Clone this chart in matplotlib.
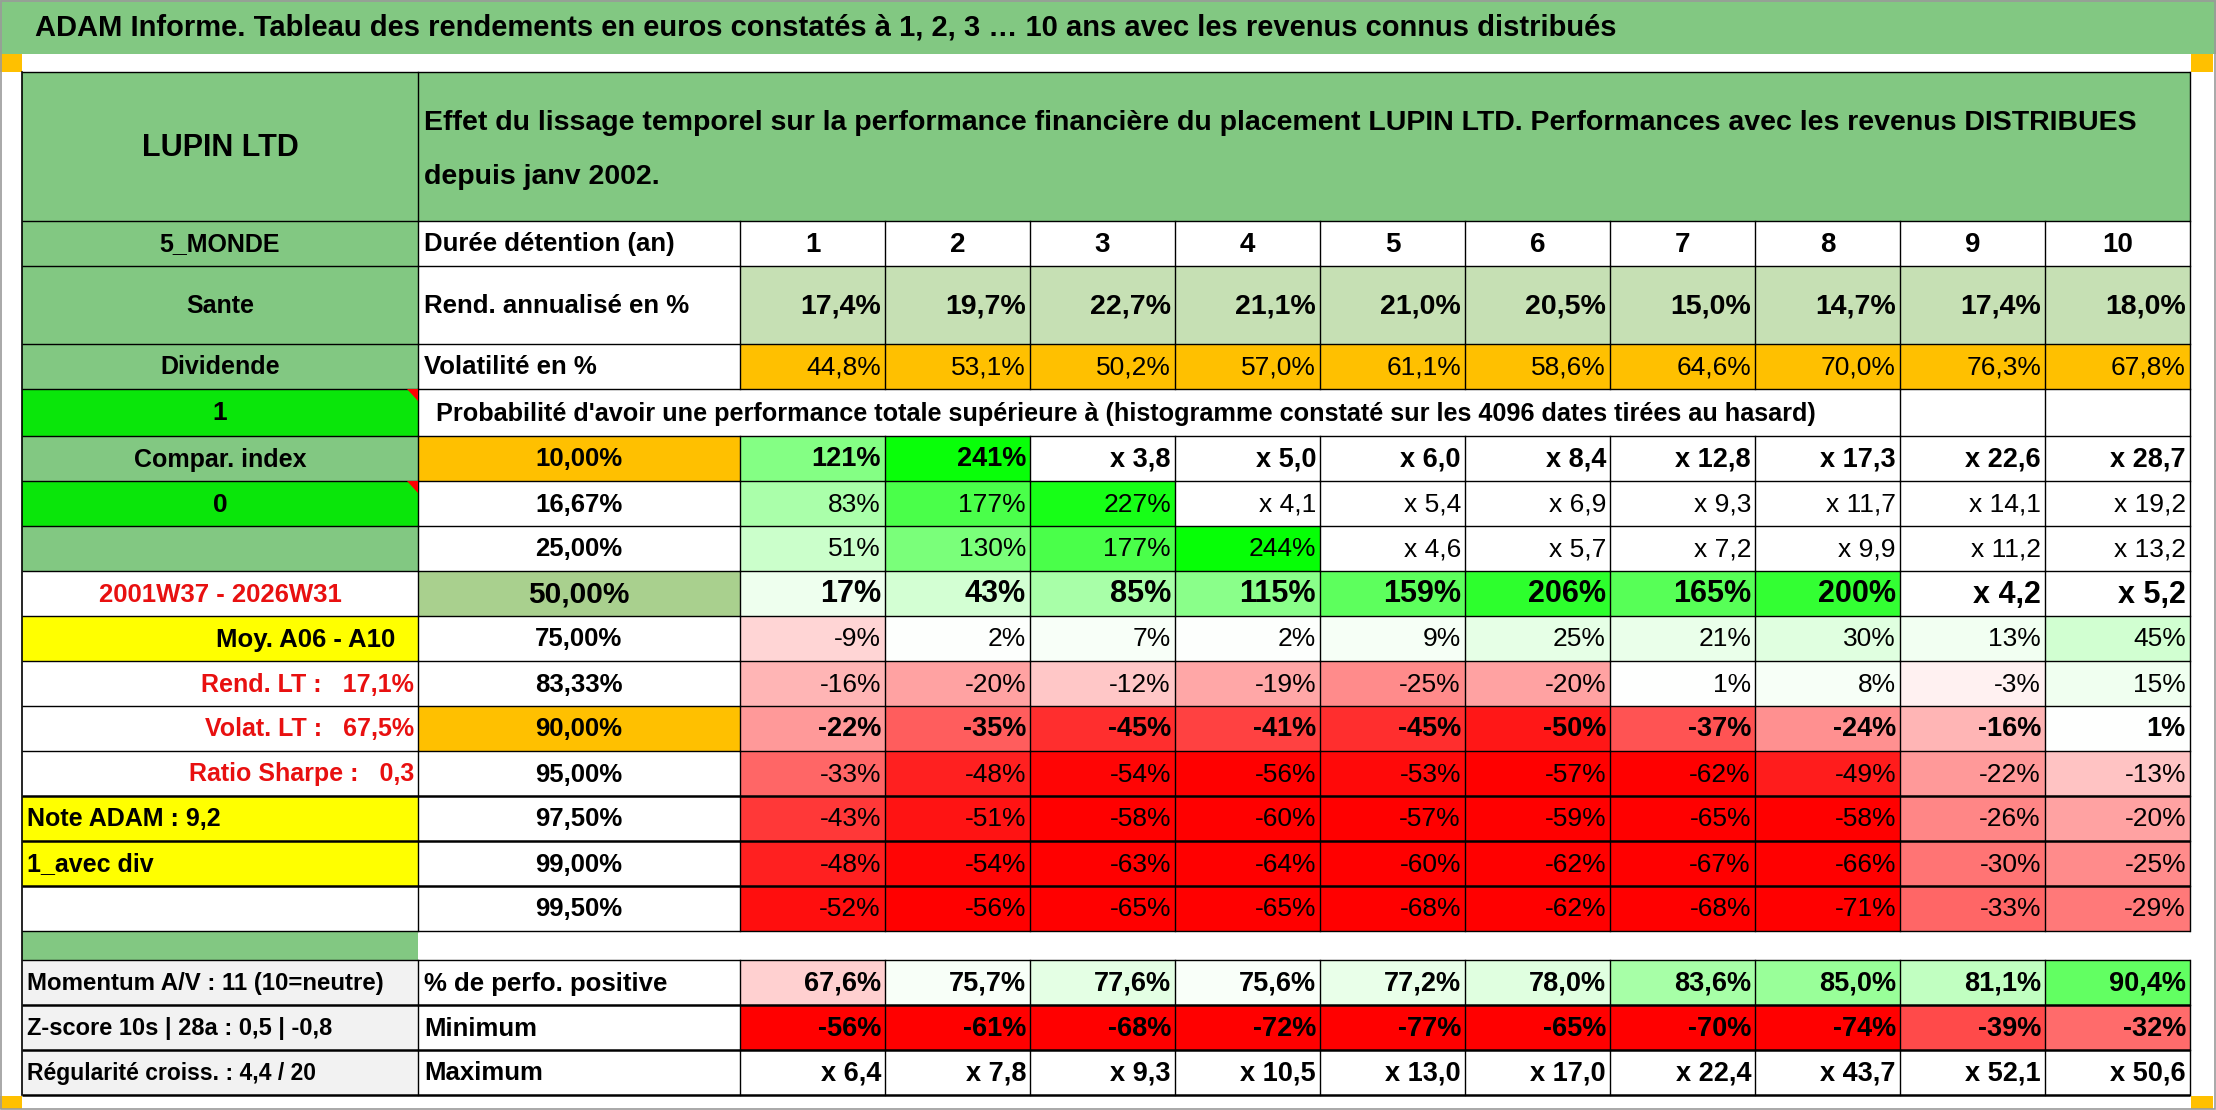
"""
Tableau ADAM : rendements LUPIN LTD à 1..10 ans (revenus distribués).
Reproduction en matplotlib d'un tableau Excel avec mise en forme conditionnelle.
"""
import matplotlib
matplotlib.use("Agg")
import matplotlib.pyplot as plt
from matplotlib.patches import Rectangle, Polygon

plt.rcParams["font.family"] = ["Liberation Sans", "DejaVu Sans"]

# =========================================================
# DONNÉES
# =========================================================
TITLE = ("ADAM Informe. Tableau des rendements en euros constatés à 1, 2, 3 … 10 ans "
         "avec les revenus connus distribués")
HEADER_1 = ("Effet du lissage temporel sur la performance financière du placement LUPIN LTD. "
            "Performances avec les revenus DISTRIBUES")
HEADER_2 = "depuis janv 2002."
PROBA_TEXT = ("Probabilité d'avoir une performance totale supérieure à "
              "(histogramme constaté sur les 4096 dates tirées au hasard)")

HOLD_YEARS = [1, 2, 3, 4, 5, 6, 7, 8, 9, 10]
REND_ANNUAL = [17.4, 19.7, 22.7, 21.1, 21.0, 20.5, 15.0, 14.7, 17.4, 18.0]
VOLATILITY = [44.8, 53.1, 50.2, 57.0, 61.1, 58.6, 64.6, 70.0, 76.3, 67.8]

QUANTILES = ["10,00%", "16,67%", "25,00%", "50,00%", "75,00%", "83,33%",
             "90,00%", "95,00%", "97,50%", "99,00%", "99,50%"]
PERF_ROWS = [
    ["121%", "241%", "x 3,8", "x 5,0", "x 6,0", "x 8,4", "x 12,8", "x 17,3", "x 22,6", "x 28,7"],
    ["83%", "177%", "227%", "x 4,1", "x 5,4", "x 6,9", "x 9,3", "x 11,7", "x 14,1", "x 19,2"],
    ["51%", "130%", "177%", "244%", "x 4,6", "x 5,7", "x 7,2", "x 9,9", "x 11,2", "x 13,2"],
    ["17%", "43%", "85%", "115%", "159%", "206%", "165%", "200%", "x 4,2", "x 5,2"],
    ["-9%", "2%", "7%", "2%", "9%", "25%", "21%", "30%", "13%", "45%"],
    ["-16%", "-20%", "-12%", "-19%", "-25%", "-20%", "1%", "8%", "-3%", "15%"],
    ["-22%", "-35%", "-45%", "-41%", "-45%", "-50%", "-37%", "-24%", "-16%", "1%"],
    ["-33%", "-48%", "-54%", "-56%", "-53%", "-57%", "-62%", "-49%", "-22%", "-13%"],
    ["-43%", "-51%", "-58%", "-60%", "-57%", "-59%", "-65%", "-58%", "-26%", "-20%"],
    ["-48%", "-54%", "-63%", "-64%", "-60%", "-62%", "-67%", "-66%", "-30%", "-25%"],
    ["-52%", "-56%", "-65%", "-65%", "-68%", "-62%", "-68%", "-71%", "-33%", "-29%"],
]
POSITIVE = [67.6, 75.7, 77.6, 75.6, 77.2, 78.0, 83.6, 85.0, 81.1, 90.4]
MINIMUM = [-56, -61, -68, -72, -77, -65, -70, -74, -39, -32]
MAXIMUM = [6.4, 7.8, 9.3, 10.5, 13.0, 17.0, 22.4, 43.7, 52.1, 50.6]

LABELS = ["LUPIN LTD", "5_MONDE", "Sante", "Dividende", "1", "Compar. index", "0", "",
          "2001W37 - 2026W31", "Moy. A06 - A10", "Rend. LT :   17,1%", "Volat. LT :   67,5%",
          "Ratio Sharpe :   0,3", "Note ADAM : 9,2", "1_avec div", "", "",
          "Momentum A/V : 11 (10=neutre)", "Z-score 10s | 28a : 0,5 | -0,8",
          "Régularité croiss. : 4,4 / 20"]
COL2_TOP = ["Durée détention (an)", "Rend. annualisé en %", "Volatilité en %"]
COL2_BOTTOM = ["% de perfo. positive", "Minimum", "Maximum"]

# =========================================================
# MISE EN PAGE (pixels)
# =========================================================
W, H = 2216, 1110
X_LEFT, X_LAB, X_VAL0, X_RIGHT = 22, 418, 740, 2190
COL_W = (X_RIGHT - X_VAL0) / 10
ROW_EDGES = [72, 221, 266, 344, 389, 436, 481, 526, 571, 616, 661, 706, 751,
             796, 841, 886, 931, 960, 1005, 1050, 1095]
THICK_EDGES = [796, 841, 886, 1005, 1050, 1095]

GREEN = "#82C882"
BRIGHT = "#0AE60A"
ORANGE = "#FFC000"
LIGHT_G = "#C6E0B4"
MID_G = "#A9D08E"
YELLOW = "#FFFF00"
GREY = "#F2F2F2"
RED_TXT = "#E81010"

# style colonne libellés : (fond, couleur texte, alignement, marge, taille)
LABEL_STYLE = {
    0: (GREEN, "black", "center", 0, 22),
    1: (GREEN, "black", "center", 0, 18), 2: (GREEN, "black", "center", 0, 18),
    3: (GREEN, "black", "center", 0, 18), 4: (BRIGHT, "black", "center", 0, 19),
    5: (GREEN, "black", "center", 0, 18), 6: (BRIGHT, "black", "center", 0, 19),
    7: (GREEN, "black", "center", 0, 18),
    8: ("white", RED_TXT, "center", 0, 18.5),
    9: (YELLOW, "black", "right", 23, 18.5),
    10: ("white", RED_TXT, "right", 4, 18), 11: ("white", RED_TXT, "right", 4, 18),
    12: ("white", RED_TXT, "right", 4, 18),
    13: (YELLOW, "black", "left", 5, 18), 14: (YELLOW, "black", "left", 5, 18),
    15: ("white", "black", "left", 5, 18), 16: (GREEN, "black", "left", 5, 18),
    17: (GREY, "black", "left", 5, 17.3), 18: (GREY, "black", "left", 5, 17),
    19: (GREY, "black", "left", 5, 16.5),
}
QUANT_BG = {0: ORANGE, 3: MID_G, 6: ORANGE}
QUANT_BOLD_ROWS = [0, 3, 6]


def pct(v, dec=1):
    return f"{v:.{dec}f}".replace(".", ",") + "%"


def scale_colour(v, center=0.0, pos_span=250.0, neg_span=55.0):
    """Échelle blanc -> vert (positif) / blanc -> rouge (négatif)."""
    d = v - center
    if d >= 0:
        t = min(d / pos_span, 1.0)
        return (1 - t, 1.0, 1 - t)
    t = min(-d / neg_span, 1.0)
    return (1.0, 1 - t, 1 - t)


def perf_colour(s):
    if s.startswith("x"):
        return "white"
    return scale_colour(float(s.rstrip("%").replace(",", ".")))


def rect(ax, x0, y0, x1, y1, fc):
    ax.add_patch(Rectangle((x0, y0), x1 - x0, y1 - y0, facecolor=fc,
                           edgecolor="none", zorder=1))


def txt(ax, x0, x1, y0, y1, s, align="right", size=20, bold=True, color="black", pad=5):
    if align == "right":
        x, ha = x1 - pad, "right"
    elif align == "left":
        x, ha = x0 + pad, "left"
    else:
        x, ha = (x0 + x1) / 2, "center"
    ax.text(x, (y0 + y1) / 2 + 1, s, ha=ha, va="center", fontsize=size,
            fontweight="bold" if bold else "normal", color=color, zorder=5)


fig = plt.figure(figsize=(W / 100, H / 100), dpi=100)
ax = fig.add_axes([0, 0, 1, 1])
ax.set_xlim(0, W)
ax.set_ylim(H, 0)
ax.axis("off")

# bandeau titre + cadre
rect(ax, 0, 0, W, 54, GREEN)
ax.text(35, 28, TITLE, ha="left", va="center", fontsize=21, fontweight="bold", zorder=5)
for cx in (0, X_RIGHT + 1):
    rect(ax, cx, 54, cx + 22, 72, ORANGE)
    rect(ax, cx, 1096, cx + 22, 1109, ORANGE)
ax.add_patch(Rectangle((0.5, 0.5), W - 2, H - 2, fill=False, edgecolor="#9A9A9A",
                       lw=1.2, zorder=6))

col_x = [X_VAL0 + i * COL_W for i in range(11)]
ry = ROW_EDGES

# --- colonne libellés
for r, lab in enumerate(LABELS):
    bg, colr, al, pad, size = LABEL_STYLE[r]
    rect(ax, X_LEFT, ry[r], X_LAB, ry[r + 1], bg)
    if lab:
        txt(ax, X_LEFT, X_LAB, ry[r], ry[r + 1], lab, al, size, True, colr, pad)
for r in (4, 6):
    ax.add_patch(Polygon([(X_LAB - 11, ry[r]), (X_LAB, ry[r]), (X_LAB, ry[r] + 12)],
                         closed=True, facecolor="red", edgecolor="none", zorder=4))

# --- en-tête fusionné
rect(ax, X_LAB, ry[0], X_RIGHT, ry[1], GREEN)
ax.text(X_LAB + 6, 123, HEADER_1, ha="left", va="center", fontsize=20.5, fontweight="bold", zorder=5)
ax.text(X_LAB + 6, 177, HEADER_2, ha="left", va="center", fontsize=20.5, fontweight="bold", zorder=5)

# --- durée / rendement / volatilité
for i, s in enumerate(COL2_TOP):
    txt(ax, X_LAB, X_VAL0, ry[1 + i], ry[2 + i], s, "left", 18.5, True, pad=6)
for c in range(10):
    x0, x1 = col_x[c], col_x[c + 1]
    txt(ax, x0, x1, ry[1], ry[2], str(HOLD_YEARS[c]), "center", 20, True)
    rect(ax, x0, ry[2], x1, ry[3], LIGHT_G)
    txt(ax, x0, x1, ry[2], ry[3], pct(REND_ANNUAL[c]), "right", 20.5, True, pad=4)
    rect(ax, x0, ry[3], x1, ry[4], ORANGE)
    txt(ax, x0, x1, ry[3], ry[4], pct(VOLATILITY[c]), "right", 19, False, pad=4)

# --- ligne de probabilité
ax.text(X_LAB + 18, (ry[4] + ry[5]) / 2 + 1, PROBA_TEXT, ha="left", va="center",
        fontsize=18.2, fontweight="bold", zorder=5)

# --- quantiles
for q, (lab, row) in enumerate(zip(QUANTILES, PERF_ROWS)):
    r = 5 + q
    bold = q in QUANT_BOLD_ROWS
    if q in QUANT_BG:
        rect(ax, X_LAB, ry[r], X_VAL0, ry[r + 1], QUANT_BG[q])
    txt(ax, X_LAB, X_VAL0, ry[r], ry[r + 1], lab, "center", 21.5 if q == 3 else 18.5, True)
    vsize = 22 if q == 3 else (19.5 if bold else 19)
    for c, s in enumerate(row):
        x0, x1 = col_x[c], col_x[c + 1]
        rect(ax, x0, ry[r], x1, ry[r + 1], perf_colour(s))
        txt(ax, x0, x1, ry[r], ry[r + 1], s, "right", vsize, bold, pad=4)

# --- synthèse
for i, s in enumerate(COL2_BOTTOM):
    txt(ax, X_LAB, X_VAL0, ry[17 + i], ry[18 + i], s, "left", 18.5, True, pad=6)
for c in range(10):
    x0, x1 = col_x[c], col_x[c + 1]
    rect(ax, x0, ry[17], x1, ry[18], scale_colour(POSITIVE[c], 75.0, 25.0, 40.0))
    txt(ax, x0, x1, ry[17], ry[18], pct(POSITIVE[c]), "right", 19.5, True, pad=4)
    rect(ax, x0, ry[18], x1, ry[19], scale_colour(MINIMUM[c]))
    txt(ax, x0, x1, ry[18], ry[19], pct(MINIMUM[c], 0), "right", 19.5, True, pad=4)
    txt(ax, x0, x1, ry[19], ry[20], "x " + f"{MAXIMUM[c]:.1f}".replace(".", ","),
        "right", 19.5, True, pad=4)

# --- bordures
LC = "black"
for y in ry:
    lw = 1.8 if y in THICK_EDGES else 1.0
    ax.plot([X_LEFT, X_RIGHT], [y, y], color=LC, lw=lw, zorder=3, solid_capstyle="butt")
ax.plot([X_LEFT, X_LEFT], [ry[0], ry[-1]], color=LC, lw=1.2, zorder=3)
for r in range(len(ry) - 1):
    y0, y1 = ry[r], ry[r + 1]
    if r == 16:
        continue
    xs = [X_LAB, X_RIGHT]
    if r == 4:
        xs += col_x[8:10]
    elif r != 0:
        xs += col_x[:10]
    for x in xs:
        ax.plot([x, x], [y0, y1], color=LC, lw=1.0, zorder=3)

fig.savefig("out.png", dpi=100)
